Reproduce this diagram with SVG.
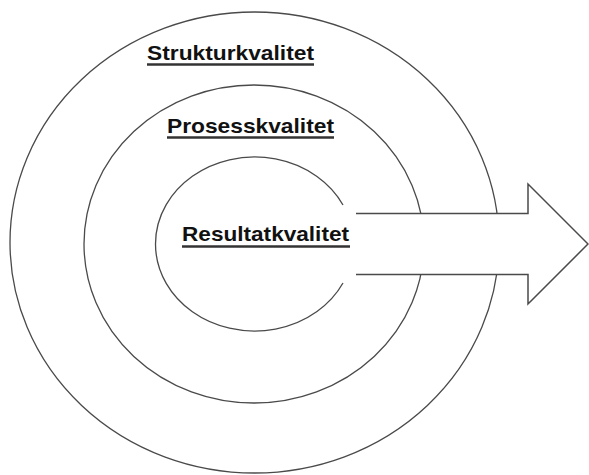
<svg xmlns="http://www.w3.org/2000/svg" width="589" height="475" viewBox="0 0 589 475">
<style>
.ring{fill:none;stroke:#4a4a4a;stroke-width:1.3}
.arrow{fill:#fff;stroke:#4a4a4a;stroke-width:1.5;stroke-linejoin:miter}
.lbl{font-family:"Liberation Sans",Arial,sans-serif;font-weight:bold;font-size:21px;fill:#111}
.ul{stroke:#333;stroke-width:2.6}
</style>
<rect width="589" height="475" fill="#fff"/>
<g id="struktur">
<ellipse class="ring" cx="254.5" cy="242.5" rx="244.5" ry="230.5"/>
<text class="lbl" x="147" y="59.5" textLength="167" lengthAdjust="spacingAndGlyphs">Strukturkvalitet</text>
<line class="ul" x1="147" y1="64.5" x2="314" y2="64.5"/>
</g>
<g id="prosess">
<ellipse class="ring" cx="254" cy="244" rx="170" ry="159"/>
<text class="lbl" x="167" y="132.5" textLength="167" lengthAdjust="spacingAndGlyphs">Prosesskvalitet</text>
<line class="ul" x1="167" y1="137.5" x2="334" y2="137.5"/>
</g>
<g id="resultat">
<path class="ring" d="M343,205 A99,87 0 1 0 343,283"/>
<text class="lbl" x="182" y="241" textLength="167" lengthAdjust="spacingAndGlyphs">Resultatkvalitet</text>
<line class="ul" x1="182" y1="246.5" x2="350" y2="246.5"/>
</g>
<g id="connectors">
<path class="arrow" d="M356,213.5 L528,213.5 L528,184 L588,244 L528,304 L528,274.5 L356,274.5"/>
</g>
</svg>
